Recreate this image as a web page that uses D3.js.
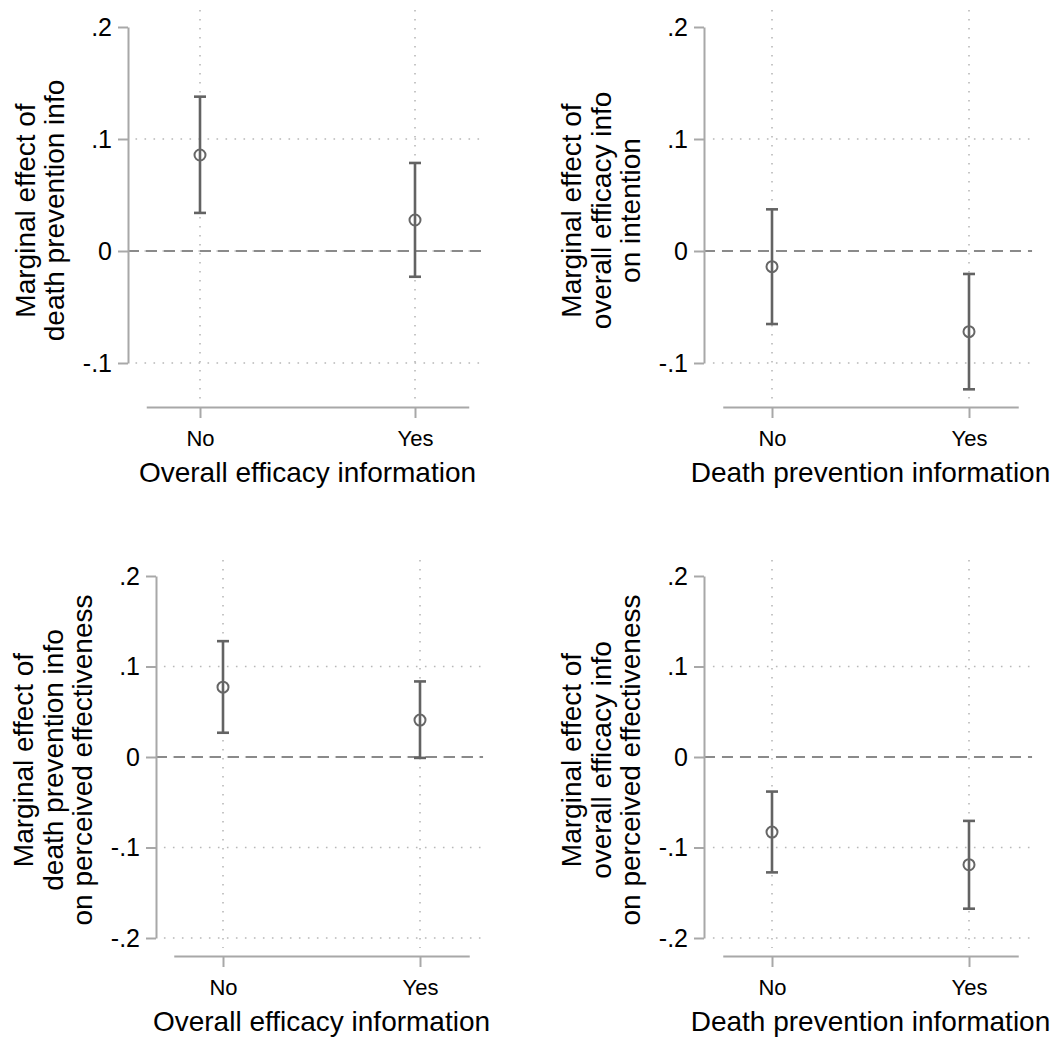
<!DOCTYPE html>
<html>

<head>
  <meta http-equiv="Content-Type" content="text/html;charset=utf-8" />
  <style type="text/css">
    body { margin: 0; background: #fff; }
    text { font-family: "Liberation Sans", Arial, sans-serif; fill: #000; }
    .grid { stroke: #b8b8b8; stroke-width: 1.6; stroke-dasharray: 1.6 7.4; }
    .zero { stroke: #8a8a8a; stroke-width: 2; stroke-dasharray: 11 7; }
    .axis path, .axis line { stroke: #a8a8a8; stroke-width: 2; }
    .bar { stroke: #636363; stroke-width: 2.6; }
  </style>
</head>

<body>
  <div id="svgContainer"></div>
  <script src="https://d3js.org/d3.v7.min.js"></script>

  <script type="text/javascript">
    var w = 1053;
    var h = 1038;

    // data
    var categories = ["No", "Yes"];

    var tlTitle = ["Marginal effect of", "death prevention info"];
    var tlXTitle = "Overall efficacy information";
    var tlEst = [0.0857, 0.0277];
    var tlLo = [0.034, -0.023];
    var tlHi = [0.1378, 0.0786];

    var trTitle = ["Marginal effect of", "overall efficacy info", "on intention"];
    var trXTitle = "Death prevention information";
    var trEst = [-0.014, -0.072];
    var trLo = [-0.0652, -0.1235];
    var trHi = [0.0372, -0.0205];

    var blTitle = ["Marginal effect of", "death prevention info", "on perceived effectiveness"];
    var blXTitle = "Overall efficacy information";
    var blEst = [0.0772, 0.0408];
    var blLo = [0.0268, -0.001];
    var blHi = [0.128, 0.0835];

    var brTitle = ["Marginal effect of", "overall efficacy info", "on perceived effectiveness"];
    var brXTitle = "Death prevention information";
    var brEst = [-0.083, -0.119];
    var brLo = [-0.1275, -0.1676];
    var brHi = [-0.0382, -0.0706];

    var topTicks = [0.2, 0.1, 0, -0.1];
    var bottomTicks = [0.2, 0.1, 0, -0.1, -0.2];

    // stata style labels: .2, 0, -.1
    function fmt(v) {
      if (v === 0) return "0";
      return (v < 0 ? "-" : "") + d3.format(".1f")(Math.abs(v)).replace(/^0/, "");
    }

    var svg = d3.select("#svgContainer")
      .append("svg")
      .attr("width", w)
      .attr("height", h);

    svg.append("rect").attr("width", w).attr("height", h).attr("fill", "#fff");

    function panel(cfg) {
      var g = svg.append("g");
      var y = d3.scaleLinear().domain([d3.min(cfg.ticks), d3.max(cfg.ticks)]).range(cfg.yRange);
      var x = d3.scaleLinear().domain([0, 1]).range(cfg.xRange);
      var gx0 = x(-0.3), gx1 = x(1.32);

      // horizontal grid (no line at the top tick)
      g.selectAll(".hgrid")
        .data(cfg.ticks.filter(function (d) { return d !== d3.max(cfg.ticks); }))
        .enter().append("line")
        .attr("class", "grid")
        .attr("x1", gx0).attr("x2", gx1)
        .attr("y1", function (d) { return y(d); })
        .attr("y2", function (d) { return y(d); });

      // vertical grid at categories
      g.selectAll(".vgrid")
        .data([0, 1])
        .enter().append("line")
        .attr("class", "grid")
        .attr("x1", function (d) { return x(d); })
        .attr("x2", function (d) { return x(d); })
        .attr("y1", cfg.top).attr("y2", cfg.bottom);

      // zero reference line
      g.append("line")
        .attr("class", "zero")
        .attr("x1", cfg.axisX).attr("x2", gx1)
        .attr("y1", y(0)).attr("y2", y(0));

      // y axis
      var ya = g.append("g")
        .attr("class", "axis")
        .attr("transform", "translate(" + cfg.axisX + ",0)")
        .call(d3.axisLeft(y).tickValues(cfg.ticks).tickFormat(fmt).tickSize(10).tickSizeOuter(0).tickPadding(6));
      ya.attr("font-size", null).attr("font-family", null);
      ya.selectAll("text").style("font-size", "25px").attr("fill", "#000");

      // x axis
      var xa = d3.scaleLinear().domain([-0.25, 1.25]).range([x(-0.25), x(1.25)]);
      var xg = g.append("g")
        .attr("class", "axis")
        .attr("transform", "translate(0," + cfg.xAxisY + ")")
        .call(d3.axisBottom(xa).tickValues([0, 1]).tickFormat(function (d) { return categories[d]; })
          .tickSize(11).tickSizeOuter(0).tickPadding(12));
      xg.attr("font-size", null).attr("font-family", null);
      xg.selectAll("text").style("font-size", "22px").attr("fill", "#000");

      // x title
      g.append("text")
        .attr("x", (x(0) + x(1)) / 2)
        .attr("y", cfg.xAxisY + 75)
        .attr("text-anchor", "middle")
        .style("font-size", "28px")
        .text(cfg.xTitle);

      // y title, stacked lines
      var cy = (cfg.top + cfg.xAxisY) / 2 + 2;
      var n = cfg.title.length;
      g.selectAll(".ytitle")
        .data(cfg.title)
        .enter().append("text")
        .attr("transform", function (d, i) {
          var bx = cfg.axisX - 64 - (n - 1 - i) * 29.5;
          return "translate(" + bx + "," + cy + ") rotate(-90)";
        })
        .attr("text-anchor", "middle")
        .style("font-size", "28px")
        .text(function (d) { return d; });

      // error bars
      var idx = [0, 1];
      g.selectAll(".bar")
        .data(idx)
        .enter().append("line")
        .attr("class", "bar")
        .attr("x1", function (i) { return x(i); })
        .attr("x2", function (i) { return x(i); })
        .attr("y1", function (i) { return y(cfg.lo[i]); })
        .attr("y2", function (i) { return y(cfg.hi[i]); });

      ["lo", "hi"].forEach(function (k) {
        g.selectAll(".cap" + k)
          .data(idx)
          .enter().append("line")
          .attr("class", "bar")
          .attr("x1", function (i) { return x(i) - 6; })
          .attr("x2", function (i) { return x(i) + 6; })
          .attr("y1", function (i) { return y(cfg[k][i]); })
          .attr("y2", function (i) { return y(cfg[k][i]); });
      });

      g.selectAll("circle")
        .data(idx)
        .enter().append("circle")
        .attr("cx", function (i) { return x(i); })
        .attr("cy", function (i) { return y(cfg.est[i]); })
        .attr("r", 5.5)
        .attr("fill", "none")
        .attr("stroke", "#666")
        .attr("stroke-width", 2);
    }

    panel({ title: tlTitle, xTitle: tlXTitle, est: tlEst, lo: tlLo, hi: tlHi, ticks: topTicks,
      yRange: [363, 27], xRange: [200, 415], axisX: 128, top: 10, bottom: 400, xAxisY: 407 });
    panel({ title: trTitle, xTitle: trXTitle, est: trEst, lo: trLo, hi: trHi, ticks: topTicks,
      yRange: [363, 27], xRange: [772, 969], axisX: 704, top: 10, bottom: 400, xAxisY: 407 });
    panel({ title: blTitle, xTitle: blXTitle, est: blEst, lo: blLo, hi: blHi, ticks: bottomTicks,
      yRange: [938, 576], xRange: [223, 420], axisX: 156, top: 560, bottom: 948, xAxisY: 956 });
    panel({ title: brTitle, xTitle: brXTitle, est: brEst, lo: brLo, hi: brHi, ticks: bottomTicks,
      yRange: [938, 576], xRange: [772, 969], axisX: 704, top: 560, bottom: 948, xAxisY: 956 });
  </script>
</body>

</html>
